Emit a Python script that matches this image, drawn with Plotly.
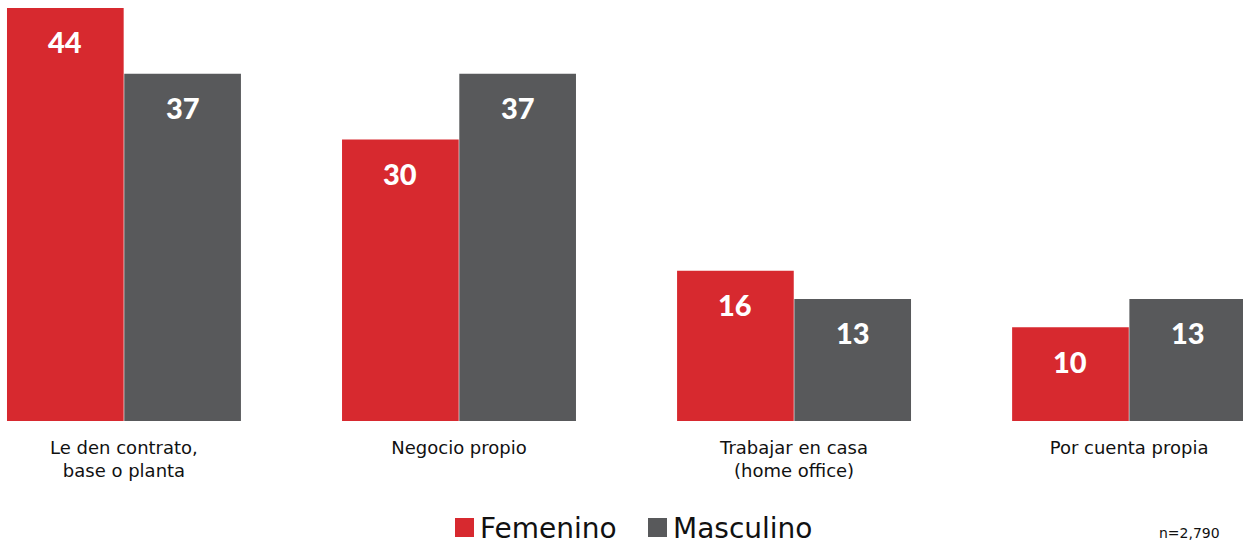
import plotly.graph_objects as go

categories = ["Le den contrato,<br>base o planta", "Negocio propio",
              "Trabajar en casa<br>(home office)", "Por cuenta propia"]
femenino = [44, 30, 16, 10]
masculino = [37, 37, 13, 13]
series_names = ["Femenino", "Masculino"]
colors = ["#D7292F", "#58595B"]
sample_note = "n=2,790"

TEXT_FONT = "DejaVu Sans"
NUM_FONT = "Lato"
x_idx = list(range(len(categories)))

fig = go.Figure()
for name, vals, col in zip(series_names, [femenino, masculino], colors):
    fig.add_trace(go.Bar(x=x_idx, y=vals, name=name, marker_color=col,
                         marker_line_width=0, showlegend=False))

# value labels near the top of each bar
half = 0.175
for vals, sign in [(femenino, -1), (masculino, 1)]:
    for i, v in enumerate(vals):
        fig.add_annotation(x=i + sign * half, y=v, yshift=-34, text=str(v),
                           showarrow=False, xref="x", yref="y",
                           font=dict(family=NUM_FONT, size=29, color="white", weight=900))

# legend drawn in paper coordinates
W, H = 1243, 544
plot_h = 421
legend_items = [(455, 478, series_names[0], colors[0]), (648, 671, series_names[1], colors[1])]
for sx, tx, name, col in legend_items:
    fig.add_shape(type="rect", xref="paper", yref="paper",
                  x0=sx / W, x1=(sx + 19) / W,
                  y0=(plot_h - 537) / plot_h, y1=(plot_h - 518) / plot_h,
                  fillcolor=col, line_width=0)
    fig.add_annotation(x=tx / W, y=(plot_h - 528) / plot_h, xref="paper", yref="paper",
                       text=name, showarrow=False, xanchor="left", yanchor="middle",
                       font=dict(family=TEXT_FONT, size=28, color="#111111"))

fig.add_annotation(x=1222 / W, y=(plot_h - 533) / plot_h, xref="paper", yref="paper",
                   text=sample_note, showarrow=False, xanchor="right", yanchor="middle",
                   font=dict(family=TEXT_FONT, size=14, color="#111111"))

fig.update_layout(
    width=W, height=H,
    margin=dict(l=0, r=0, t=0, b=H - plot_h),
    paper_bgcolor="white", plot_bgcolor="white",
    barmode="group", bargap=0.30, bargroupgap=0.005,
    xaxis=dict(range=[-0.37, 3.34], tickmode="array", tickvals=x_idx,
               ticktext=categories, showgrid=False, zeroline=False, showline=False,
               ticks="", tickfont=dict(family=TEXT_FONT, size=18, color="#111111"),
               ticklabelstandoff=14),
    yaxis=dict(range=[0, 44.85], visible=False),
)

fig.write_html("out.html")
